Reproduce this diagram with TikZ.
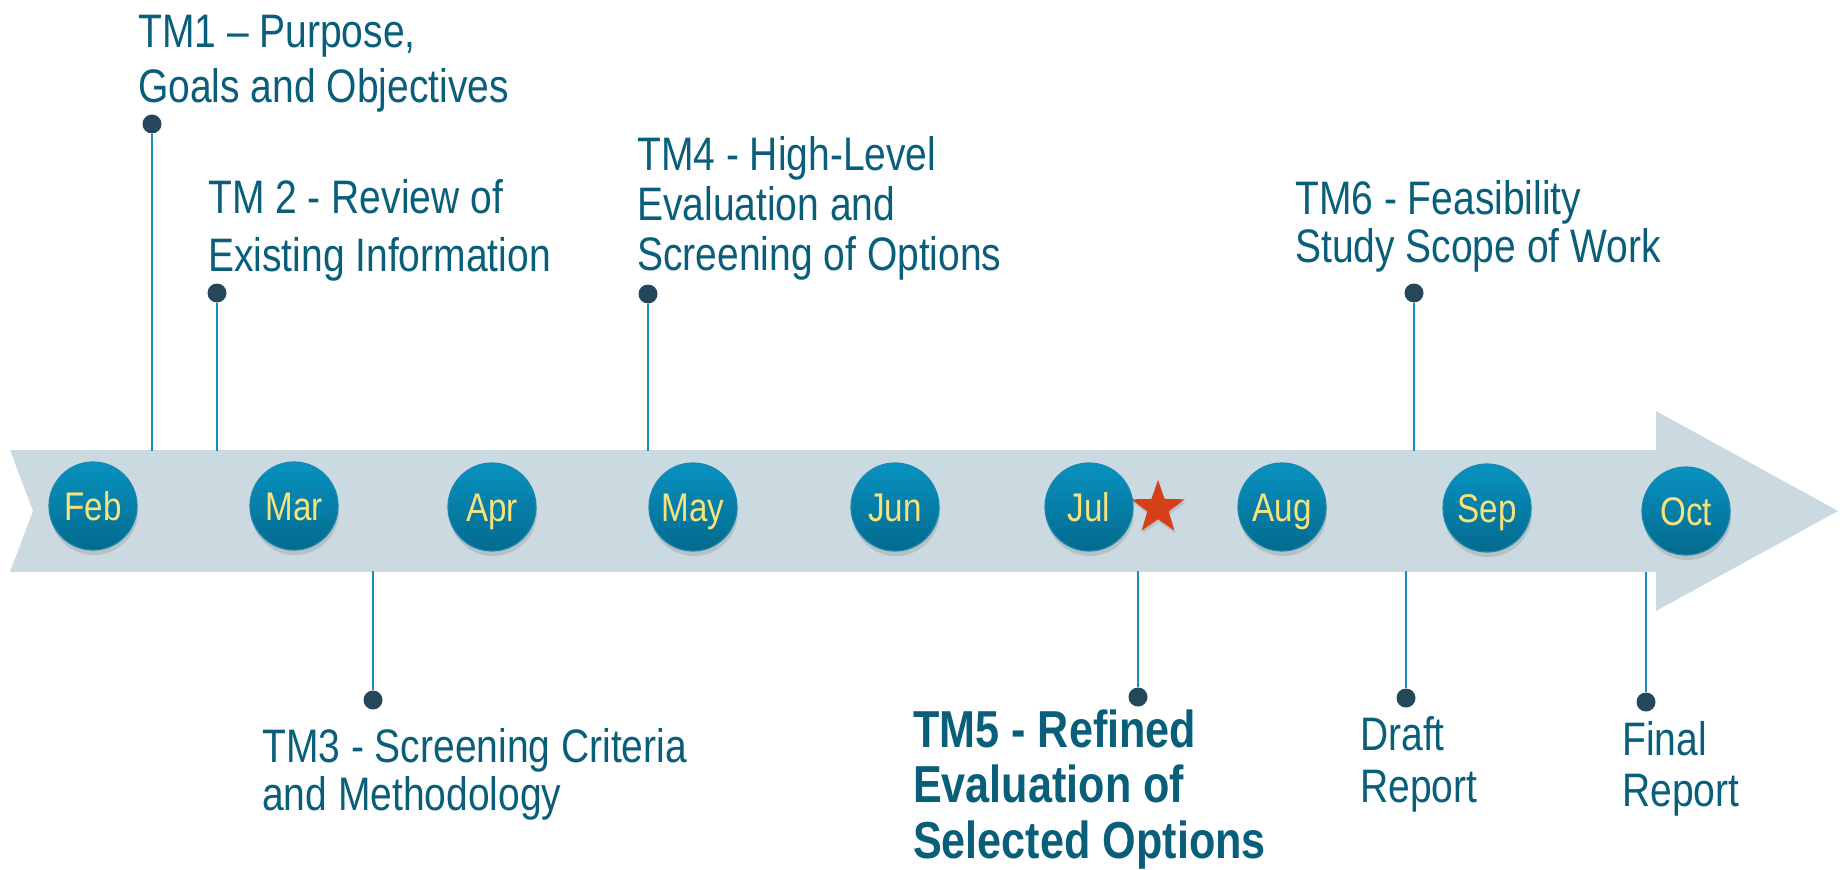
\documentclass[tikz,border=0pt]{standalone}
\usepackage{fontspec}
\setmainfont{Liberation Sans}[FakeStretch=0.83]
\usetikzlibrary{shapes.geometric,shadows}
\definecolor{bandc}{RGB}{203,217,225}
\definecolor{txtc}{RGB}{9,94,122}
\definecolor{connc}{RGB}{26,140,184}
\definecolor{dotc}{RGB}{37,71,91}
\definecolor{mtop}{RGB}{8,146,192}
\definecolor{mbot}{RGB}{4,106,142}
\definecolor{mrim}{RGB}{22,136,176}
\definecolor{mtxt}{RGB}{247,227,124}
\definecolor{starc}{RGB}{214,64,24}
\newcommand\twolines[3]{\vtop{\baselineskip=#1pt\hbox{#2}\hbox{#3}}}
\newcommand\threelines[4]{\vtop{\baselineskip=#1pt\hbox{#2}\hbox{#3}\hbox{#4}}}
\begin{document}
\begin{tikzpicture}[x=1pt,y=-1pt,
  month/.style={circle, minimum size=88pt, inner sep=0pt, top color=mtop, bottom color=mbot,
    draw=mrim, line width=1.2pt, text=mtxt, font=\fontsize{40}{48}\selectfont,
    text height=29pt, text depth=0pt,
    drop shadow={shadow xshift=1pt, shadow yshift=-5pt, opacity=0.28}},
  dotnode/.style={circle, fill=dotc, minimum size=19pt, inner sep=0pt},
  connline/.style={draw=connc, line width=2pt},
  lab/.style={anchor=base west, inner sep=0pt, text=txtc, font=\fontsize{47}{56}\selectfont}]
\useasboundingbox (0,0) rectangle (1845,870);
% band arrow
\fill[bandc] (10,450) -- (1656,450) -- (1656,411) -- (1838,511) -- (1656,611) -- (1656,572) -- (10,572) -- (33,511) -- cycle;
% edge coordinates
\coordinate (b1) at (152,451);
\coordinate (b2) at (217,451);
\coordinate (b4) at (648,451);
\coordinate (b6) at (1414,451);
\coordinate (b3) at (373,571);
\coordinate (b5) at (1138,571);
\coordinate (bd) at (1406,571);
\coordinate (bf) at (1646,572);
% dots
\node[dotnode] (d1) at (152,124) {};
\node[dotnode] (d2) at (217,293) {};
\node[dotnode] (d4) at (648,294) {};
\node[dotnode] (d6) at (1414,293) {};
\node[dotnode] (d3) at (373,700) {};
\node[dotnode] (d5) at (1138,697) {};
\node[dotnode] (dd) at (1406,698) {};
\node[dotnode] (df) at (1646,702) {};
% connectors
\draw[connline] (d1) -- (b1);
\draw[connline] (d2) -- (b2);
\draw[connline] (d4) -- (b4);
\draw[connline] (d6) -- (b6);
\draw[connline] (d3) -- (b3);
\draw[connline] (d5) -- (b5);
\draw[connline] (dd) -- (bd);
\draw[connline] (df) -- (bf);
% months
\node[month] (feb) at (93,506) {Feb};
\node[month] (mar) at (294,506) {Mar};
\node[month] (apr) at (492,507) {Apr};
\node[month] (may) at (693,507) {May};
\node[month] (jun) at (895,507) {Jun};
\node[month] (jul) at (1089,507) {Jul};
\node[month] (aug) at (1282,507) {Aug};
\node[month] (sep) at (1487,508) {Sep};
\node[month] (oct) at (1686,511) {Oct};
% star
\node[star, star points=5, star point ratio=2.5, minimum size=56pt, inner sep=0pt, fill=starc,
  drop shadow={shadow xshift=1pt, shadow yshift=-3pt, opacity=0.25}] (star) at (1158,508) {};
% labels
\node[lab] (l1) at (138,47) {\twolines{55}{TM1 – Purpose,}{Goals and Objectives}};
\node[lab] (l2) at (208,213) {\twolines{58}{TM 2 - Review of}{Existing Information}};
\node[lab] (l4) at (637,170) {\threelines{50}{TM4 - High-Level}{Evaluation and}{Screening of Options}};
\node[lab] (l6) at (1295,214) {\twolines{48}{TM6 - Feasibility}{Study Scope of Work}};
\node[lab] (l3) at (262,762) {\twolines{48}{TM3 - Screening Criteria}{and Methodology}};
\node[lab, font=\fontsize{52}{60}\selectfont\bfseries] (l5) at (913,747) {\threelines{55.5}{TM5 - Refined}{Evaluation of}{Selected Options}};
\node[lab] (ld) at (1360,750) {\twolines{52}{Draft}{Report}};
\node[lab] (lf) at (1622,755) {\twolines{51}{Final}{Report}};
\end{tikzpicture}
\end{document}
